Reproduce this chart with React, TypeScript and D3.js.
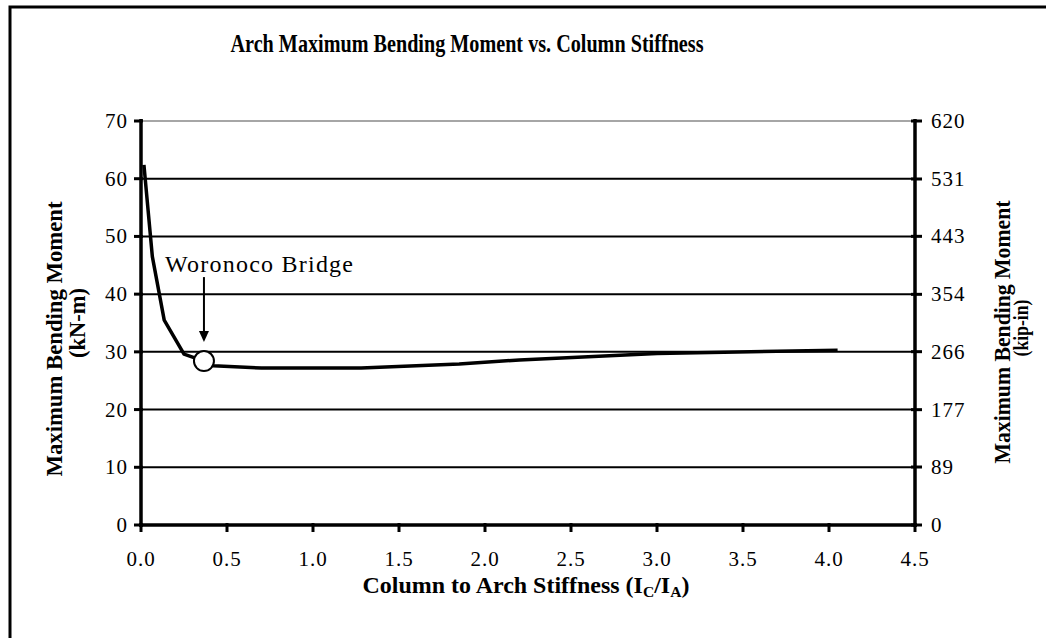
import React from 'react';
import * as d3 from 'd3';

// stiffness ratio Ic/Ia vs max bending moment (kN-m)
const stiffness = [0.017, 0.066, 0.135, 0.25, 0.366, 0.42, 0.7, 1.28, 1.85, 2.2, 3.0, 4.05];
const moment = [62.4, 46.5, 35.5, 29.6, 28.4, 27.6, 27.2, 27.2, 27.9, 28.6, 29.7, 30.3];

const xTicks = [0, 0.5, 1.0, 1.5, 2.0, 2.5, 3.0, 3.5, 4.0, 4.5];
const yTicks = [0, 10, 20, 30, 40, 50, 60, 70];
const yRightTicks = [0, 89, 177, 266, 354, 443, 531, 620];

// highlighted bridge point
const bridge = { name: 'Woronoco Bridge', x: 0.366, y: 28.4 };

const W = 1046;
const H = 638;
const FONT = '"Liberation Serif", "Times New Roman", serif';

const App = () => {
  const x = d3.scaleLinear().domain([0, 4.5]).range([141, 915]);
  const y = d3.scaleLinear().domain([0, 70]).range([525, 121]);
  const yR = d3.scaleLinear().domain([0, 620]).range([525, 121]);

  const pts: [number, number][] = stiffness.map((s, i) => [s, moment[i]]);
  const line = d3.line<[number, number]>()
    .x(d => x(d[0]))
    .y(d => y(d[1]));

  const bx = x(bridge.x);
  const by = y(bridge.y);

  return (
    <svg width={W} height={H} style={{ position: 'absolute', left: 0, top: 0, background: '#fff' }}
      fontFamily={FONT}>
      <rect x={0} y={0} width={W} height={H} fill="#fff" />
      {/* outer frame */}
      <rect x={10} y={7} width={1200} height={800} fill="none" stroke="#000" strokeWidth={3} />

      <text x={467} y={52} textAnchor="middle" fontWeight="bold" fontSize={26}
        textLength={473} lengthAdjust="spacingAndGlyphs">
        Arch Maximum Bending Moment vs. Column Stiffness
      </text>

      {/* gridlines */}
      {yTicks.filter(t => t > 0).map(t => (
        <line key={'g' + t} x1={x(0)} x2={x(4.5)} y1={y(t)} y2={y(t)}
          stroke={t === 70 ? '#888' : '#000'} strokeWidth={t === 70 ? 1.5 : 2} />
      ))}

      {/* axes */}
      <line x1={x(0)} x2={x(0)} y1={y(70) - 2} y2={y(0) + 2} stroke="#000" strokeWidth={3.5} />
      <line x1={x(4.5)} x2={x(4.5)} y1={y(70) - 2} y2={y(0) + 2} stroke="#000" strokeWidth={3.5} />
      <line x1={x(0) - 2} x2={x(4.5) + 2} y1={y(0)} y2={y(0)} stroke="#000" strokeWidth={3.5} />

      {/* left ticks */}
      {yTicks.map(t => (
        <g key={'l' + t}>
          <line x1={x(0) - 7} x2={x(0) + 2} y1={y(t)} y2={y(t)} stroke="#000" strokeWidth={3} />
          <text x={128} y={y(t) + 7} textAnchor="end" fontSize={21} letterSpacing={1}>{t}</text>
        </g>
      ))}

      {/* right ticks */}
      {yRightTicks.map(t => (
        <g key={'r' + t}>
          <line x1={x(4.5) - 4} x2={x(4.5) + 7} y1={yR(t)} y2={yR(t)} stroke="#000" strokeWidth={3} />
          <text x={931} y={yR(t) + 7} textAnchor="start" fontSize={21} letterSpacing={1}>{t}</text>
        </g>
      ))}

      {/* x ticks */}
      {xTicks.map(t => (
        <g key={'x' + t}>
          <line x1={x(t)} x2={x(t)} y1={y(0) - 2} y2={y(0) + 7} stroke="#000" strokeWidth={3} />
          <text x={x(t)} y={566} textAnchor="middle" fontSize={21} letterSpacing={1}>{t.toFixed(1)}</text>
        </g>
      ))}

      {/* curve */}
      <path d={line(pts) || ''} fill="none" stroke="#000" strokeWidth={3.5} strokeLinejoin="round" />

      {/* bridge marker and annotation */}
      <circle cx={bx} cy={by} r={10} fill="#fff" stroke="#000" strokeWidth={2} />
      <line x1={bx} x2={bx} y1={by - 84} y2={by - 28} stroke="#000" strokeWidth={2} />
      <path d={`M${bx - 5},${by - 30} L${bx + 5},${by - 30} L${bx},${by - 19} Z`} fill="#000" />
      <text x={165} y={272} fontSize={24} textLength={188} lengthAdjust="spacing">{bridge.name}</text>

      {/* axis titles */}
      <text x={526} y={593} textAnchor="middle" fontWeight="bold" fontSize={23}
        textLength={327} lengthAdjust="spacingAndGlyphs">
        Column to Arch Stiffness (I<tspan fontSize={15} dy={4}>C</tspan><tspan dy={-4}>/I</tspan><tspan fontSize={15} dy={4}>A</tspan><tspan dy={-4}>)</tspan>
      </text>

      <text transform={`translate(62,339) rotate(-90)`} textAnchor="middle" fontWeight="bold" fontSize={24}
        textLength={275} lengthAdjust="spacingAndGlyphs">Maximum Bending Moment</text>
      <text transform={`translate(85,323) rotate(-90)`} textAnchor="middle" fontWeight="bold" fontSize={23}
        textLength={70} lengthAdjust="spacingAndGlyphs">(kN-m)</text>

      <text transform={`translate(1010,332) rotate(-90)`} textAnchor="middle" fontWeight="bold" fontSize={23}
        textLength={263} lengthAdjust="spacingAndGlyphs">Maximum Bending Moment</text>
      <text transform={`translate(1028,328) rotate(-90)`} textAnchor="middle" fontWeight="bold" fontSize={22}
        textLength={57} lengthAdjust="spacingAndGlyphs">(kip-in)</text>
    </svg>
  );
};

export default App;
